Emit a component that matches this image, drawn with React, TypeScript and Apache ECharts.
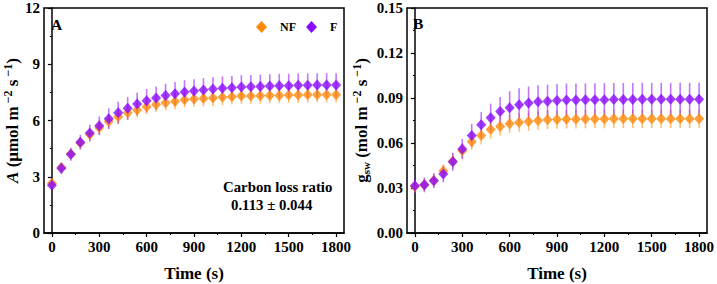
import React, { useEffect, useRef } from "react";
import * as echarts from "echarts";

// Time points (s), one measurement every minute
const times: number[] = [
  0, 60, 120, 180, 240, 300, 360, 420, 480, 540, 600, 660, 720, 780, 840, 900,
  960, 1020, 1080, 1140, 1200, 1260, 1320, 1380, 1440, 1500, 1560, 1620, 1680, 1740, 1800,
];

// Panel A: net assimilation A (μmol m-2 s-1)
const aNF: number[] = [
  2.65, 3.5, 4.22, 4.8, 5.25, 5.62, 5.95, 6.2, 6.42, 6.56, 6.74, 6.86, 6.95, 7.02, 7.11, 7.15,
  7.17, 7.2, 7.24, 7.27, 7.31, 7.31, 7.32, 7.34, 7.34, 7.36, 7.36, 7.38, 7.38, 7.38, 7.38,
];
const aNFErr: number[] = [
  0.15, 0.2, 0.25, 0.3, 0.32, 0.35, 0.38, 0.4, 0.4, 0.4, 0.41, 0.41, 0.41, 0.42, 0.42, 0.42,
  0.42, 0.42, 0.42, 0.42, 0.42, 0.42, 0.42, 0.42, 0.42, 0.42, 0.42, 0.42, 0.42, 0.42, 0.42,
];
const aF: number[] = [
  2.55, 3.45, 4.2, 4.84, 5.33, 5.72, 6.1, 6.42, 6.65, 6.88, 7.06, 7.2, 7.34, 7.43, 7.52, 7.57,
  7.63, 7.68, 7.72, 7.75, 7.79, 7.8, 7.82, 7.84, 7.86, 7.86, 7.88, 7.88, 7.89, 7.89, 7.89,
];
const aFErr: number[] = [
  0.2, 0.3, 0.35, 0.4, 0.45, 0.5, 0.55, 0.58, 0.6, 0.6, 0.62, 0.62, 0.62, 0.63, 0.63, 0.63,
  0.63, 0.63, 0.63, 0.63, 0.63, 0.63, 0.63, 0.63, 0.63, 0.63, 0.63, 0.63, 0.63, 0.63, 0.63,
];

// Panel B: stomatal conductance gsw (mol m-2 s-1)
const gNF: number[] = [
  0.031, 0.032, 0.035, 0.0413, 0.0478, 0.0548, 0.0609, 0.065, 0.069, 0.071, 0.0728, 0.0737,
  0.0743, 0.075, 0.0755, 0.0757, 0.0758, 0.0759, 0.076, 0.076, 0.076, 0.0761, 0.0761, 0.0761,
  0.0761, 0.0761, 0.0761, 0.0761, 0.0761, 0.0761, 0.0761,
];
const gNFErr: number[] = [
  0.004, 0.004, 0.004, 0.0045, 0.005, 0.005, 0.0055, 0.006, 0.006, 0.006, 0.0062, 0.0062,
  0.0062, 0.0062, 0.0062, 0.0062, 0.0062, 0.0062, 0.0062, 0.0062, 0.0062, 0.0062, 0.0062,
  0.0062, 0.0062, 0.0062, 0.0062, 0.0062, 0.0062, 0.0062, 0.0062,
];
const gF: number[] = [
  0.0315, 0.0321, 0.0348, 0.0393, 0.0475, 0.056, 0.065, 0.0721, 0.0768, 0.081, 0.0835, 0.0855,
  0.0866, 0.0875, 0.0879, 0.0884, 0.0886, 0.0887, 0.0888, 0.0889, 0.0889, 0.089, 0.089, 0.089,
  0.0891, 0.0891, 0.0891, 0.0891, 0.0891, 0.0891, 0.0891,
];
const gFErr: number[] = [
  0.005, 0.005, 0.005, 0.0055, 0.006, 0.0067, 0.0078, 0.0085, 0.0094, 0.0096, 0.011, 0.011,
  0.011, 0.011, 0.011, 0.011, 0.011, 0.011, 0.011, 0.011, 0.011, 0.011, 0.011, 0.011, 0.011,
  0.011, 0.011, 0.011, 0.011, 0.011, 0.011,
];

const xMajor: number[] = [0, 300, 600, 900, 1200, 1500, 1800];
const xMinor: number[] = [150, 450, 750, 1050, 1350, 1650];

const ORANGE = "#FF8A0A";
const PURPLE = "#8A0AFF";
const FONT = "Liberation Serif";

const rows = (ys: number[], errs: number[]) => times.map((t, i) => [t, ys[i], errs[i]]);

const errorBars = (name: string, data: number[][], color: string, gi: number) => ({
  type: "custom",
  name,
  xAxisIndex: gi * 2,
  yAxisIndex: gi,
  data,
  encode: { x: 0, y: 1 },
  silent: true,
  z: 2,
  renderItem: (_p: any, api: any) => {
    const x = api.value(0);
    const y = api.value(1);
    const e = api.value(2);
    const top = api.coord([x, y + e]);
    const bot = api.coord([x, y - e]);
    return {
      type: "line",
      shape: { x1: top[0], y1: top[1], x2: bot[0], y2: bot[1] },
      style: { stroke: color, lineWidth: 1.6, opacity: 0.55 },
    };
  },
});

const points = (name: string, data: number[][], color: string, gi: number, z: number) => ({
  type: "scatter",
  name,
  xAxisIndex: gi * 2,
  yAxisIndex: gi,
  data: data.map((d) => [d[0], d[1]]),
  symbol: "diamond",
  symbolSize: [10, 11],
  itemStyle: { color },
  z,
});

const tickLabel = { fontFamily: FONT, fontWeight: "bold" as const, fontSize: 15, color: "#000" };

const xAxes = (gi: number) => [
  {
    type: "value",
    gridIndex: gi,
    min: -50,
    max: 1850,
    name: "Time (s)",
    nameLocation: "middle",
    nameGap: 32,
    nameTextStyle: { fontFamily: FONT, fontWeight: "bold", fontSize: 17, color: "#000" },
    axisLine: { show: true, lineStyle: { color: "#000", width: 1.5 } },
    axisTick: { show: true, inside: false, length: 4, customValues: xMajor, lineStyle: { color: "#000", width: 1.2 } },
    axisLabel: { ...tickLabel, margin: 6, customValues: xMajor, formatter: (v: number) => String(v) },
    splitLine: { show: false },
  },
  {
    type: "value",
    gridIndex: gi,
    min: -50,
    max: 1850,
    position: "bottom",
    axisLine: { show: false },
    axisTick: { show: true, inside: false, length: 2, customValues: xMinor, lineStyle: { color: "#000", width: 1 } },
    axisLabel: { show: false },
    splitLine: { show: false },
  },
];

const yAxis = (gi: number, max: number, interval: number, decimals: number, name: string, rich: any, nameGap: number) => ({
  type: "value",
  gridIndex: gi,
  min: 0,
  max,
  interval,
  name,
  nameLocation: "middle",
  nameRotate: 90,
  nameGap,
  nameTextStyle: { fontFamily: FONT, fontWeight: "bold", fontSize: 17, color: "#000", rich },
  axisLine: { show: true, lineStyle: { color: "#000", width: 1.5 } },
  axisTick: { show: true, inside: false, length: 4, lineStyle: { color: "#000", width: 1.2 } },
  minorTick: { show: true, splitNumber: 2, length: 2, lineStyle: { color: "#000", width: 1 } },
  axisLabel: { ...tickLabel, margin: 4, formatter: (v: number) => v.toFixed(decimals) },
  splitLine: { show: false },
});

const base = { fontFamily: FONT, fontWeight: "bold", fontSize: 17, color: "#000" };
const richA = {
  i: { ...base, fontStyle: "italic" },
  t: { ...base },
  sup: { ...base, fontSize: 12, padding: [0, 0, 9, 0] },
};
const richG = {
  t: { ...base },
  sub: { ...base, fontSize: 11, padding: [8, 0, 0, 0] },
  sup: { ...base, fontSize: 12, padding: [0, 0, 9, 0] },
};

const legendText = { fontFamily: FONT, fontWeight: "bold", fontSize: 12, color: "#000", padding: [0, 0, 0, 8] };

const gridBox = (left: number) => ({
  left,
  top: 8,
  width: 300,
  height: 225,
  outerBoundsMode: "none",
  containLabel: false,
  show: true,
  borderColor: "#000",
  borderWidth: 1.5,
  backgroundColor: "transparent",
});

export default function App() {
  const ref = useRef<HTMLDivElement>(null);

  useEffect(() => {
    if (!ref.current) return;
    const chart = echarts.init(ref.current, undefined, { renderer: "svg" });
    chart.setOption({
      animation: false,
      backgroundColor: "#fff",
      grid: [gridBox(44), gridBox(407)],
      xAxis: [...xAxes(0), ...xAxes(1)],
      yAxis: [
        yAxis(0, 12, 3, 0, "{i|A}{t| (μmol m}{sup| −2}{t| s}{sup| −1}{t|)}", richA, 20),
        yAxis(1, 0.15, 0.03, 2, "{t|g}{sub|sw}{t| (mol m}{sup| −2}{t| s}{sup| −1}{t|)}", richG, 35),
      ],
      legend: {
        left: 251,
        top: 16,
        itemWidth: 11,
        itemHeight: 12,
        itemGap: 10,
        textStyle: legendText,
        data: [
          { name: "NF", icon: "diamond", itemStyle: { color: ORANGE } },
          { name: "F", icon: "diamond", itemStyle: { color: PURPLE } },
        ],
      },
      graphic: [
        { type: "text", left: 51, top: 16, style: { text: "A", fontFamily: FONT, fontWeight: "bold", fontSize: 15.5, fill: "#000" } },
        { type: "text", left: 413, top: 15, style: { text: "B", fontFamily: FONT, fontWeight: "bold", fontSize: 15.5, fill: "#000" } },
        { type: "text", left: 223, top: 179, style: { text: "Carbon loss ratio", fontFamily: FONT, fontWeight: "bold", fontSize: 14.8, fill: "#000" } },
        { type: "text", left: 231, top: 197, style: { text: "0.113 ± 0.044", fontFamily: FONT, fontWeight: "bold", fontSize: 14.8, fill: "#000" } },
      ],
      series: [
        errorBars("NF", rows(aNF, aNFErr), ORANGE, 0),
        errorBars("F", rows(aF, aFErr), PURPLE, 0),
        points("NF", rows(aNF, aNFErr), ORANGE, 0, 3),
        points("F", rows(aF, aFErr), PURPLE, 0, 4),
        errorBars("NF", rows(gNF, gNFErr), ORANGE, 1),
        errorBars("F", rows(gF, gFErr), PURPLE, 1),
        points("NF", rows(gNF, gNFErr), ORANGE, 1, 3),
        points("F", rows(gF, gFErr), PURPLE, 1, 4),
      ],
    });
    return () => chart.dispose();
  }, []);

  return <div ref={ref} style={{ width: 717, height: 284, position: "absolute", left: 0, top: 0 }} />;
}
